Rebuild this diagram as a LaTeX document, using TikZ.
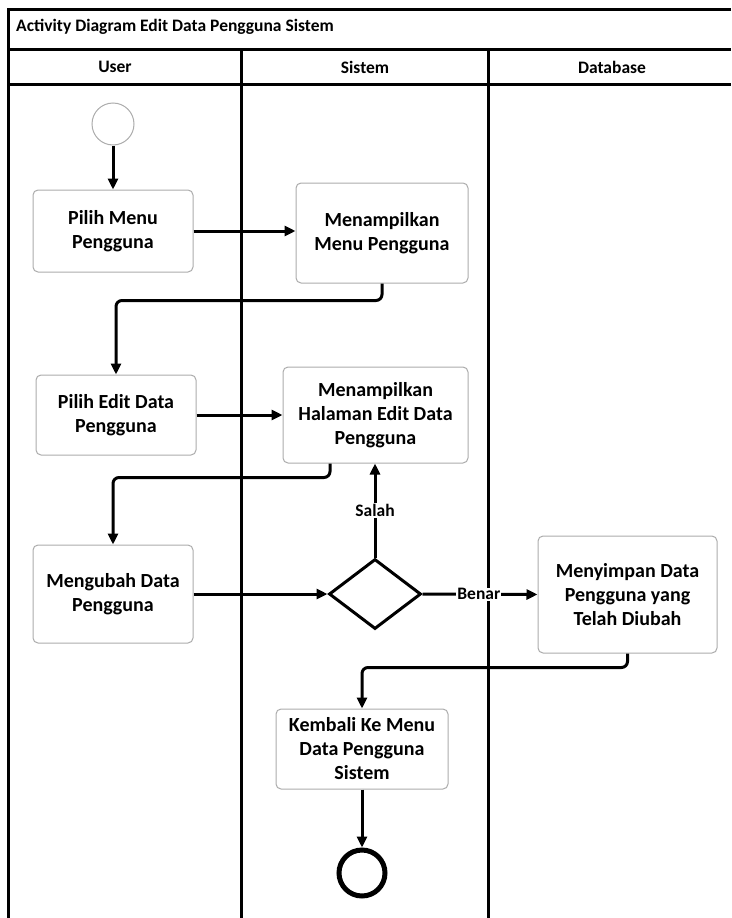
\documentclass[tikz,border=0pt]{standalone}
\usepackage{fontspec}
\setmainfont{Carlito}
\usetikzlibrary{arrows.meta,shapes.geometric,calc}
\tikzset{
  lane/.style={line width=3pt, black},
  actbox/.style={draw=gray!65, line width=1pt, rounded corners=5pt, fill=white, align=center,
     font=\fontsize{20}{24}\selectfont\bfseries, inner sep=0pt},
  flow/.style={line width=3pt, -{Triangle[length=11pt,width=10pt]}},
  guard/.style={fill=white, inner sep=1pt, font=\fontsize{17.5}{19}\selectfont\bfseries},
  headtxt/.style={font=\fontsize{17.5}{19}\selectfont\bfseries, inner sep=0pt},
}
\begin{document}
\begin{tikzpicture}[x=1pt,y=-1pt]
\useasboundingbox (0,0) rectangle (731,918);
% frame and swimlanes
\draw[lane] (731,9) -- (8,9) -- (8,918);
\draw[lane] (8,49) -- (731,49);
\draw[lane] (8,84) -- (731,84);
\draw[lane] (241,49) -- (241,918);
\draw[lane] (488,49) -- (488,918);
\node[headtxt, anchor=west] (title) at (16,27) {Activity Diagram Edit Data Pengguna Sistem};
\node[headtxt] (hUser) at (115,67) {User};
\node[headtxt] (hSistem) at (365,67) {Sistem};
\node[headtxt] (hDb) at (612,67) {Database};
% nodes
\node[circle, draw=gray!65, line width=1pt, minimum size=42pt, inner sep=0pt, fill=white] (start) at (113,124) {};
\node[actbox, minimum width=160pt, minimum height=82pt] (pm) at (113,231) {Pilih Menu\\Pengguna};
\node[actbox, minimum width=172pt, minimum height=100pt] (mm) at (382,233) {Menampilkan\\Menu Pengguna};
\node[actbox, minimum width=160pt, minimum height=80pt] (pe) at (116,415) {Pilih Edit Data\\Pengguna};
\node[actbox, minimum width=185pt, minimum height=96pt] (mh) at (375.5,415) {Menampilkan\\Halaman Edit Data\\Pengguna};
\node[actbox, minimum width=160pt, minimum height=98pt] (mu) at (113,594) {Mengubah Data\\Pengguna};
\node[diamond, draw=black, line width=3pt, minimum width=92pt, minimum height=70pt, inner sep=0pt, aspect=1.3, fill=white] (dec) at (375,594) {};
\node[actbox, minimum width=179pt, minimum height=117pt] (ms) at (627.5,594.5) {Menyimpan Data\\Pengguna yang\\Telah Diubah};
\node[actbox, minimum width=172pt, minimum height=80pt] (kb) at (362,749) {Kembali Ke Menu\\Data Pengguna\\Sistem};
\node[circle, draw=black, line width=5pt, minimum size=46pt, inner sep=0pt, fill=white] (end) at (362,873) {};
% connectors
\draw[flow] (start) -- (pm);
\draw[flow] (pm.east) -- (pm.east -| mm.west);
\draw[flow, rounded corners=6pt] (mm.south) -- ++(0,17) -| (pe.north);
\draw[flow] (pe.east) -- (pe.east -| mh.west);
\draw[flow, rounded corners=6pt] ([xshift=-45.5pt]mh.south) -- ++(0,14) -| (mu.north);
\draw[flow] (mu.east) -- (dec.west);
\draw[flow] (dec.north) -- (dec.north |- mh.south) node[guard, pos=0.5] (lSalah) {Salah};
\draw[flow] (dec.east) -- (ms.west) node[guard, pos=0.49] (lBenar) {Benar};
\draw[flow, rounded corners=6pt] (ms.south) -- ++(0,14) -| (kb.north);
\draw[flow] (kb.south) -- (end.north);
\end{tikzpicture}
\end{document}
